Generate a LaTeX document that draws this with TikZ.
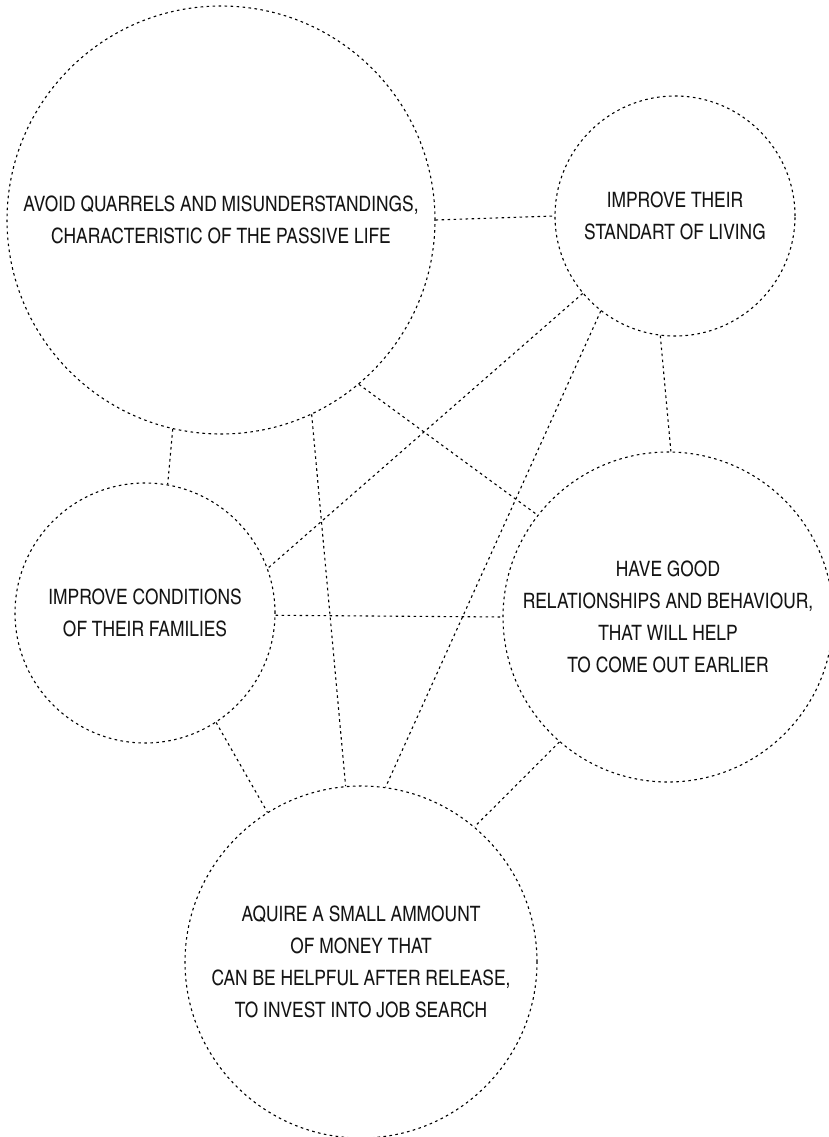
\documentclass[tikz,border=0pt]{standalone}
\usepackage{fontspec}
\setmainfont{TeX Gyre Heros Cn}
\begin{document}
\begin{tikzpicture}[x=1pt,y=-1pt,
  dotline/.style={draw=black,line width=1.1pt,dash pattern=on 2.6pt off 3.4pt},
  goal/.style={circle,dotline,inner sep=0pt,align=center,text=black!92,
    font=\fontsize{21.2}{32}\selectfont},
  link/.style={dotline}]
\useasboundingbox (0,0) rectangle (829,1137);

\node[goal,minimum size=428pt] (quarrels) at (221,220)
  {AVOID QUARRELS AND MISUNDERSTANDINGS,\\CHARACTERISTIC OF THE PASSIVE LIFE};
\node[goal,minimum size=240pt] (living) at (675,216)
  {IMPROVE THEIR\\STANDART OF LIVING};
\node[goal,minimum size=260pt] (families) at (145,613)
  {IMPROVE CONDITIONS\\OF THEIR FAMILIES};
\node[goal,minimum size=330pt] (behaviour) at (668,617)
  {HAVE GOOD\\RELATIONSHIPS AND BEHAVIOUR,\\THAT WILL HELP\\TO COME OUT EARLIER};
\node[goal,minimum size=352pt] (money) at (361,962)
  {AQUIRE A SMALL AMMOUNT\\OF MONEY THAT\\CAN BE HELPFUL AFTER RELEASE,\\TO INVEST INTO JOB SEARCH};

% connections between the goals
\draw[link] (quarrels.-0.8) -- (living.180);
\draw[link] (quarrels.257.6) -- (families.80.2);
\draw[link] (quarrels.-65.9) -- (money.95.8);
\draw[link] (quarrels.-50.6) -- (behaviour.142.6);
\draw[link] (living.220.7) -- (families.20.1);
\draw[link] (living.232.2) -- (money.82.9);
\draw[link] (living.263.8) -- (behaviour.89.7);
\draw[link] (families.-1.7) -- (behaviour.180.3);
\draw[link] (families.-57.8) -- (money.122.2);
\draw[link] (behaviour.229.2) -- (money.50);
\end{tikzpicture}
\end{document}
